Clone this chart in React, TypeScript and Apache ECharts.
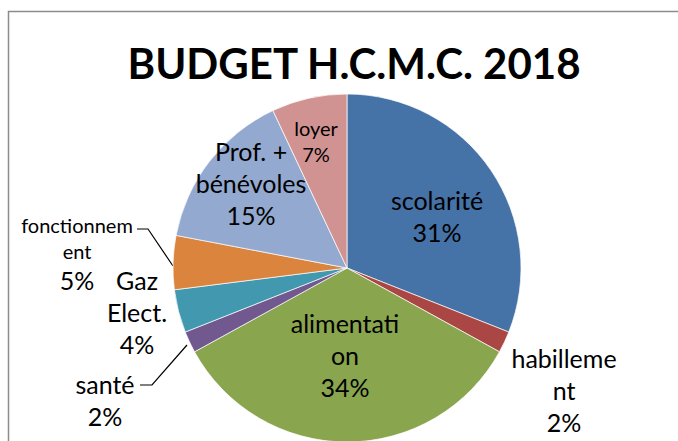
import React, { useEffect, useRef } from "react";
import * as echarts from "echarts";

const categories = [
  "scolarité",
  "habillement",
  "alimentation",
  "santé",
  "Gaz Elect.",
  "fonctionnement",
  "Prof. + bénévoles",
  "loyer",
];
const values = [31, 2, 34, 2, 4, 5, 15, 7];
// label texts as wrapped in the original chart
const labelTexts = [
  "scolarité",
  "habilleme\nnt",
  "alimentati\non",
  "santé",
  "Gaz\nElect.",
  "fonctionnem\nent",
  "Prof. +\nbénévoles",
  "loyer",
];
const colors = ["#4572A7", "#AA4643", "#89A54E", "#71588F", "#4198AF", "#DB843D", "#93A9CF", "#D19392"];
const smallLabel = [false, false, false, false, false, true, false, true];
const labelCenters: [number, number][] = [
  [437, 216],
  [564, 390],
  [345, 355],
  [105, 400],
  [137, 312],
  [77, 254],
  [251, 183],
  [316, 141],
];
const leaderLines: Record<number, [number, number][]> = {
  5: [[137, 229], [148, 229], [173, 266]],
  3: [[140, 385], [152, 385], [187, 345]],
};

export default function App() {
  const ref = useRef<HTMLDivElement>(null);
  useEffect(() => {
    if (!ref.current) return;
    const chart = echarts.init(ref.current, null, { renderer: "svg" });
    const font = "Lato, 'Noto Sans', sans-serif";
    chart.setOption({
      animation: false,
      backgroundColor: "#ffffff",
      title: {
        text: "BUDGET H.C.M.C. 2018",
        left: 349,
        top: 37,
        textAlign: "center",
        textStyle: { fontFamily: font, fontWeight: "bold", fontSize: 42, color: "#000" },
      },
      graphic: [
        {
          type: "rect",
          shape: { x: 8.5, y: 11.5, width: 720, height: 480 },
          style: { fill: "none", stroke: "#8c8c8c", lineWidth: 1.5 },
          silent: true,
        },
      ],
      series: [
        {
          type: "pie",
          center: [347, 268],
          radius: 174,
          startAngle: 90,
          clockwise: true,
          percentPrecision: 0,
          itemStyle: { borderColor: "#ffffff", borderWidth: 0.7 },
          label: {
            show: true,
            position: "outside",
            color: "#000",
            fontFamily: font,
            fontSize: 25,
            lineHeight: 32,
            align: "center",
            overflow: "none",
            formatter: (p: any) => {
              const t = labelTexts[p.dataIndex];
              if (p.dataIndex === 5) {
                return t.split("\n").map((s) => `{s|${s}}`).join("\n") + `\n{b|${p.percent}%}`;
              }
              if (smallLabel[p.dataIndex]) {
                return t.split("\n").map((s) => `{s|${s}}`).join("\n") + `\n{s|${p.percent}%}`;
              }
              return `${t}\n${p.percent}%`;
            },
            rich: {
              s: { fontFamily: font, fontSize: 20, lineHeight: 26, color: "#000", align: "center" },
              b: { fontFamily: font, fontSize: 25, lineHeight: 32, color: "#000", align: "center" },
            },
          },
          labelLine: { show: false, lineStyle: { color: "#000", width: 1 } },
          labelLayout: (params: any) => {
            const i = params.dataIndex;
            const c = labelCenters[i];
            const r = params.labelRect;
            const res: any = {
              x: c[0],
              y: c[1] - r.height / 2,
              align: "center",
              verticalAlign: "top",
              width: 200,
              moveOverlap: false,
              hideOverlap: false,
            };
            if (leaderLines[i]) res.labelLinePoints = leaderLines[i];
            return res;
          },
          data: categories.map((name, i) => ({
            name,
            value: values[i],
            itemStyle: { color: colors[i] },
            labelLine: { show: !!leaderLines[i], lineStyle: { color: "#000", width: 1.2 } },
          })),
        },
      ],
    });
    return () => chart.dispose();
  }, []);
  return <div ref={ref} style={{ position: "fixed", left: 0, top: 0, width: 678, height: 441 }} />;
}
